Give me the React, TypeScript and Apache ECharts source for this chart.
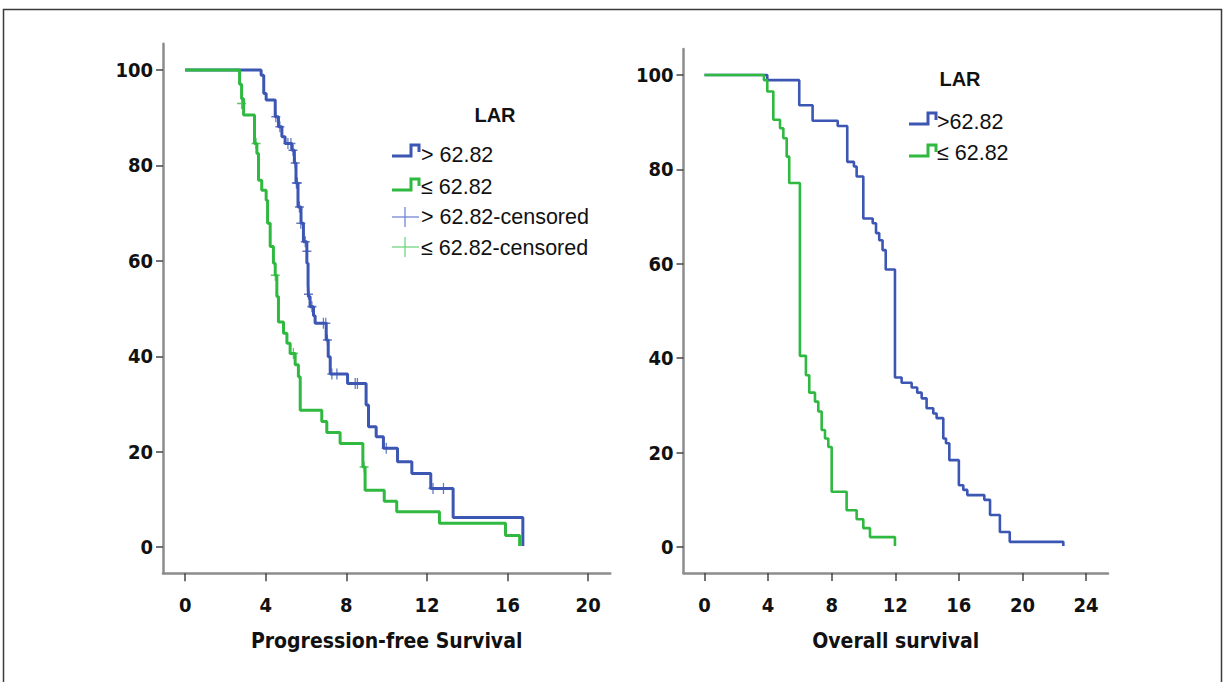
import React, { useEffect, useRef } from "react";
import * as echarts from "echarts";

// ---------- Data ----------
const pfsHigh: [number, number][] = [
  [0, 100], [3.77, 98.9], [3.9, 95.1], [4.02, 93.7], [4.47, 90.2], [4.63, 88.1], [4.8, 86.0],
  [4.96, 84.6], [5.3, 83.2], [5.42, 80.5], [5.5, 76.3], [5.6, 71.3], [5.75, 67.9], [5.87, 64.0],
  [6.04, 59.5], [6.1, 55.0], [6.12, 52.5], [6.2, 50.4], [6.37, 48.5], [6.45, 46.9], [7.0, 43.4],
  [7.1, 39.9], [7.2, 36.3], [8.06, 34.3], [8.98, 29.8], [9.1, 25.2], [9.48, 23.1], [9.84, 20.7],
  [10.54, 17.9], [11.25, 15.4], [12.19, 12.3], [13.3, 6.2], [16.76, 0.2],
];
const pfsLow: [number, number][] = [
  [0, 100], [2.7, 97], [2.8, 94], [2.9, 90.6], [3.44, 84.6], [3.56, 82.5], [3.64, 76.9],
  [3.8, 74.8], [4.02, 72.7], [4.09, 67.9], [4.22, 63.0], [4.38, 59.5], [4.47, 57.0], [4.55, 52.5],
  [4.63, 47.2], [4.88, 44.8], [5.05, 42.7], [5.21, 40.6], [5.46, 38.2], [5.62, 35.7], [5.71, 28.7],
  [6.78, 26.3], [7.03, 24.0], [7.69, 21.7], [8.82, 16.8], [8.93, 11.9], [9.88, 9.6], [10.5, 7.4],
  [12.62, 5.0], [15.9, 2.4], [16.6, 0.2],
];
const pfsHighCensored: [number, number][] = [
  [4.5, 90.2], [4.7, 88.1], [5.1, 84.6], [5.25, 84.6], [5.35, 83.2], [5.46, 80.5], [5.52, 76.3],
  [5.57, 76.3], [5.67, 71.3], [5.74, 67.9], [5.96, 64.0], [6.04, 62.0], [6.12, 53.0], [6.29, 50.4],
  [6.86, 46.9], [6.98, 46.9], [7.06, 43.4], [7.28, 36.3], [7.53, 36.3], [8.44, 34.3], [8.55, 34.3],
  [9.98, 20.7], [12.3, 12.3], [12.82, 12.3],
];
const pfsLowCensored: [number, number][] = [
  [2.8, 93.0], [3.52, 84.6], [4.47, 57.0], [5.37, 40.6], [8.88, 16.8],
];
const osHigh: [number, number][] = [
  [0, 100], [3.95, 98.9], [5.96, 93.6], [6.8, 90.3], [8.38, 89.2], [8.98, 81.6], [9.4, 80.6],
  [9.57, 78.5], [9.99, 69.6], [10.58, 68.6], [10.79, 66.5], [10.99, 65.0], [11.2, 62.9],
  [11.4, 58.8], [11.98, 35.9], [12.4, 34.8], [13.03, 33.8], [13.38, 32.7], [13.66, 31.5],
  [13.97, 29.4], [14.39, 28.3], [14.6, 27.3], [15.02, 23.0], [15.19, 22.0], [15.4, 18.4],
  [16.0, 13.1], [16.28, 12.1], [16.53, 11.0], [17.6, 10.0], [17.96, 6.8], [18.58, 3.2],
  [19.2, 1.1], [22.57, 0.2],
];
const osLow: [number, number][] = [
  [0, 100], [3.74, 98.9], [3.95, 96.5], [4.33, 90.5], [4.75, 88.7], [4.96, 86.6], [5.17, 82.7],
  [5.33, 77.1], [6.0, 40.5], [6.38, 36.4], [6.59, 32.7], [6.95, 30.8], [7.16, 28.7], [7.37, 24.8],
  [7.58, 23.0], [7.79, 21.2], [8.0, 11.7], [8.94, 7.8], [9.57, 5.9], [9.99, 4.0], [10.41, 2.1],
  [11.98, 0.2],
];
const pfsTicks = [0, 4, 8, 12, 16, 20];
const osTicks = [0, 4, 8, 12, 16, 20, 24];
const yTicks = [0, 20, 40, 60, 80, 100];
const pfsTitle = "Progression-free Survival";
const osTitle = "Overall survival";
const legendTitle = "LAR";
const pfsLegend = ["> 62.82", "≤ 62.82", "> 62.82-censored", "≤ 62.82-censored"];
const osLegend = [">62.82", "≤ 62.82"];

// ---------- Styles ----------
const BLUE = "#3c56b4";
const GREEN = "#2fb940";
const BLUE_LIGHT = "#7486d2";
const GREEN_LIGHT = "#74d480";
const AXIS = "#8c8c8c";
const NARROW = "'Liberation Sans Narrow', 'DejaVu Sans Condensed', 'Arial Narrow', sans-serif";
const SANS = "'Liberation Sans', Arial, sans-serif";
const PLUS = "path://M4.3,0 H5.7 V4.3 H10 V5.7 H5.7 V10 H4.3 V5.7 H0 V4.3 H4.3 Z";

function xAxisCfg(gridIndex: number, min: number, max: number, ticks: number[], name: string) {
  return {
    type: "value",
    gridIndex,
    min,
    max,
    name,
    nameLocation: "middle",
    nameGap: 57,
    nameTextStyle: { fontFamily: NARROW, fontWeight: "bold", fontSize: 21, color: "#111" },
    axisLine: { onZero: false, lineStyle: { color: AXIS, width: 2.5 } },
    axisTick: { show: true, length: 8, customValues: ticks, lineStyle: { color: "#444", width: 1.5 } },
    axisLabel: {
      customValues: ticks,
      margin: 22,
      fontFamily: NARROW,
      fontWeight: "bold",
      fontSize: 20,
      color: "#111",
    },
    splitLine: { show: false },
  };
}

function yAxisCfg(gridIndex: number) {
  return {
    type: "value",
    gridIndex,
    min: -5.5,
    max: 105.5,
    axisLine: { show: true, onZero: false, lineStyle: { color: AXIS, width: 2.5 } },
    axisTick: { show: true, length: 7, customValues: yTicks, lineStyle: { color: "#444", width: 1.5 } },
    axisLabel: {
      customValues: yTicks,
      margin: 10,
      fontFamily: NARROW,
      fontWeight: "bold",
      fontSize: 20,
      color: "#111",
    },
    splitLine: { show: false },
  };
}

function stepSeries(data: [number, number][], color: string, idx: number, width: number) {
  return {
    type: "line",
    step: "end",
    xAxisIndex: idx,
    yAxisIndex: idx,
    data,
    symbol: "none",
    lineStyle: { color, width },
    silent: true,
  };
}

function censorSeries(data: [number, number][], color: string) {
  return {
    type: "scatter",
    xAxisIndex: 0,
    yAxisIndex: 0,
    data,
    symbol: PLUS,
    symbolSize: [9, 11],
    itemStyle: { color },
    silent: true,
    z: 3,
  };
}

function stepIcon(x: number, y: number, color: string) {
  return {
    type: "polyline",
    shape: { points: [[x, y], [x + 19, y], [x + 19, y - 11], [x + 27, y - 11], [x + 27, y - 4]] },
    style: { stroke: color, lineWidth: 3, fill: "none" },
  };
}

function crossIcon(x: number, y: number, color: string) {
  return [
    { type: "line", shape: { x1: x, y1: y, x2: x + 27, y2: y }, style: { stroke: color, lineWidth: 1.3 } },
    { type: "line", shape: { x1: x + 13, y1: y - 10, x2: x + 13, y2: y + 10 }, style: { stroke: color, lineWidth: 1.3 } },
  ];
}

function label(x: number, y: number, text: string, bold = false, align = "left") {
  return {
    type: "text",
    x,
    y,
    style: {
      text,
      fontFamily: SANS,
      fontSize: bold ? 20 : 21.5,
      fontWeight: bold ? "bold" : "normal",
      fill: "#111",
      textAlign: align,
      textVerticalAlign: "middle",
    },
  };
}

export default function App() {
  const ref = useRef<HTMLDivElement>(null);
  useEffect(() => {
    if (!ref.current) return;
    const chart = echarts.init(ref.current, null, { renderer: "svg" });
    chart.setOption({
      animation: false,
      backgroundColor: "#ffffff",
      grid: [
        { left: 163, top: 43.8, width: 447.3, height: 529.5 },
        { left: 683.5, top: 49, width: 424.5, height: 524 },
      ],
      xAxis: [
        xAxisCfg(0, -1.1, 21.1, pfsTicks, pfsTitle),
        xAxisCfg(1, -1.32, 25.38, osTicks, osTitle),
      ],
      yAxis: [yAxisCfg(0), yAxisCfg(1)],
      series: [
        stepSeries(pfsHigh, BLUE, 0, 3),
        stepSeries(pfsLow, GREEN, 0, 3),
        censorSeries(pfsHighCensored, BLUE),
        censorSeries(pfsLowCensored, GREEN),
        stepSeries(osHigh, BLUE, 1, 2.6),
        stepSeries(osLow, GREEN, 1, 2.6),
      ],
      graphic: [
        {
          type: "rect",
          shape: { x: 3.5, y: 9.5, width: 1218, height: 690 },
          style: { stroke: "#3a3a3a", lineWidth: 1.5, fill: "none" },
          silent: true,
        },
        label(495, 115, legendTitle, true, "center"),
        stepIcon(392, 156, BLUE),
        label(421, 155, pfsLegend[0]),
        stepIcon(392, 190, GREEN),
        label(421, 187, pfsLegend[1]),
        ...crossIcon(392, 217, BLUE_LIGHT),
        label(421, 217, pfsLegend[2]),
        ...crossIcon(392, 247, GREEN_LIGHT),
        label(421, 248, pfsLegend[3]),
        label(960, 79, legendTitle, true, "center"),
        stepIcon(909, 124, BLUE),
        label(937, 122, osLegend[0]),
        stepIcon(909, 156, GREEN),
        label(937, 153, osLegend[1]),
      ],
    });
    return () => chart.dispose();
  }, []);
  return (
    <div
      ref={ref}
      style={{ position: "absolute", left: 0, top: 0, width: 1226, height: 682, background: "#fff" }}
    />
  );
}
